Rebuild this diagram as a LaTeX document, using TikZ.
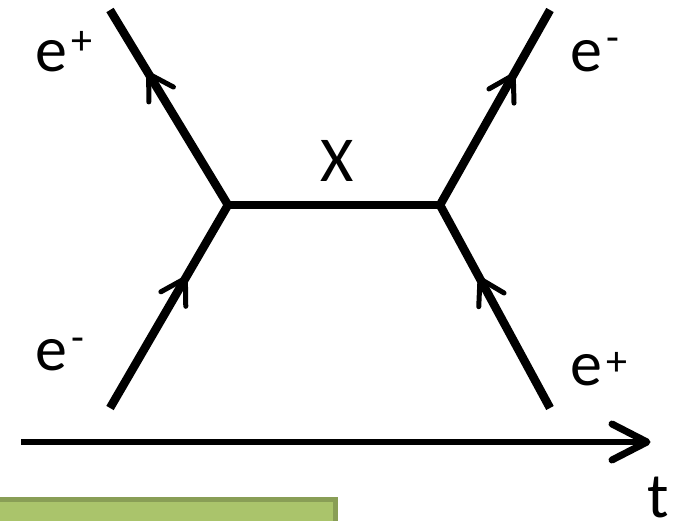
\documentclass[tikz,border=0pt]{standalone}
\usepackage{fontspec}
\setmainfont{Carlito}
\usetikzlibrary{decorations.markings}
\definecolor{gfill}{RGB}{170,196,107}
\definecolor{gborder}{RGB}{137,158,86}
\newcommand\chevmark{\draw[line width=5pt,line cap=round,line join=round] (-24pt,14.4pt) -- (0pt,0pt) -- (-24pt,-14.4pt);}
\newcommand\axischev{\draw[line width=7pt,line cap=round,line join=round] (-35pt,18pt) -- (0pt,0pt) -- (-35pt,-18pt);}
\newcommand\supr[2]{\hspace{4pt}\raisebox{#1}{\fontsize{42}{42}\selectfont #2}}
\begin{document}
\begin{tikzpicture}[x=1pt,y=-1pt,
  fline/.style={line width=8.5pt,line join=miter,line cap=butt},
  taxis/.style={line width=6.5pt,line cap=butt,postaction={decorate},
    decoration={markings,mark=at position 1 with {\axischev}}},
  twoarrows/.style n args={2}{postaction={decorate},
    decoration={markings,mark=at position #1 with {\chevmark},mark=at position #2 with {\chevmark}}},
  lbl/.style={inner sep=0pt,anchor=base west,font=\fontsize{64}{64}\selectfont}]
\useasboundingbox (0,0) rectangle (677,521);
% green box
\draw[line width=5pt,draw=gborder,fill=gfill] (-10,499.5) rectangle (335.5,560);
% coordinates
\coordinate (ul) at (110,10);
\coordinate (ll) at (110,408);
\coordinate (vl) at (228,205);
\coordinate (vr) at (440,205);
\coordinate (ur) at (550,10);
\coordinate (lr) at (550,408);
\coordinate (t0) at (21,442);
\coordinate (t1) at (647,442);
% lines
\draw[fline] (vl) -- (vr);
\draw[fline,twoarrows={150pt}{388pt}] (ll) -- (vl) -- (ul);
\draw[fline,twoarrows={147pt}{380pt}] (lr) -- (vr) -- (ur);
\draw[taxis] (t0) -- (t1);
% labels
\node[lbl] (lul) at (35,72) {e\supr{17pt}{+}};
\node[lbl] (lur) at (570,72) {e\supr{20pt}{-}};
\node[lbl] (lll) at (35,370) {e\supr{19pt}{-}};
\node[lbl] (llr) at (570,385) {e\supr{10pt}{+}};
\node[lbl,anchor=base] (lx) at (337,182) {X};
\node[lbl] (lt) at (647,517) {t};
\end{tikzpicture}
\end{document}
